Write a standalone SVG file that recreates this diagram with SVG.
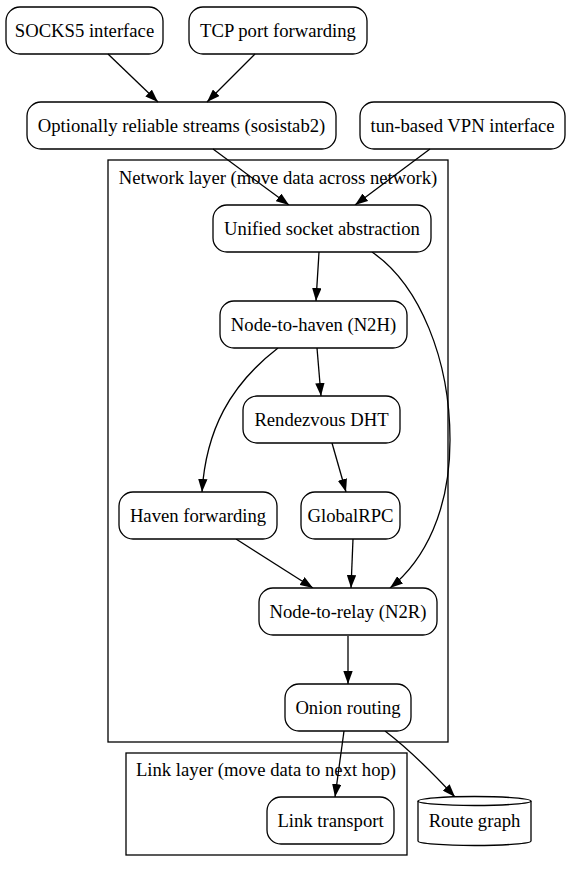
<svg xmlns="http://www.w3.org/2000/svg" width="571" height="872" viewBox="0 0 571 872">
<defs>
<marker id="ah" viewBox="0 0 13 9.4" refX="13" refY="4.7" markerWidth="13" markerHeight="9.4" markerUnits="userSpaceOnUse" orient="auto">
<path d="M0,0 L13,4.7 L0,9.4 z" fill="#000"/>
</marker>
</defs>
<style>
rect.n{fill:#fff;stroke:#000;stroke-width:1.3}
rect.c{fill:none;stroke:#000;stroke-width:1.3}
text{font-size:18.67px;fill:#000;text-anchor:middle}
#edges path{fill:none;stroke:#000;stroke-width:1.3;marker-end:url(#ah)}
</style>
<rect width="571" height="872" fill="#fff"/>
<g font-family="Liberation Serif, Times New Roman, DejaVu Serif, serif">
<g id="cluster_network">
<rect class="c" x="108" y="160" width="340" height="582"/>
<text x="278" y="184">Network layer (move data across network)</text>
</g>
<g id="cluster_link">
<rect class="c" x="126" y="753" width="281" height="102"/>
<text x="266" y="776">Link layer (move data to next hop)</text>
</g>
<g id="socks5"><rect class="n" x="6" y="7" width="157" height="47" rx="14"/><text x="84.5" y="37">SOCKS5 interface</text></g>
<g id="tcp"><rect class="n" x="189" y="7" width="178" height="47" rx="14"/><text x="278" y="37">TCP port forwarding</text></g>
<g id="sosistab"><rect class="n" x="27" y="102" width="309" height="47" rx="14"/><text x="181.5" y="132">Optionally reliable streams (sosistab2)</text></g>
<g id="tun"><rect class="n" x="360" y="102" width="205" height="47" rx="14"/><text x="462.5" y="132">tun-based VPN interface</text></g>
<g id="edges">
<path d="M108,54 L158,102"/>
<path d="M255,54 L207,102"/>
<path d="M213,149 L289,205"/>
<path d="M430,149 L355,205"/>
<path d="M319,252 L316,301"/>
<path d="M372,252 C420,285 450,360 450,440 C450,510 425,560 390,588"/>
<path d="M317,348 L321,396"/>
<path d="M278,348 C230,385 206,430 202,492"/>
<path d="M332,443 L346,492"/>
<path d="M236,539 L313,588"/>
<path d="M353,539 L351,588"/>
<path d="M348,636 L348,684"/>
<path d="M344,731 L335,797"/>
<path d="M385,731 C410,750 430,770 455,797"/>
</g>
<g id="unified"><rect class="n" x="213" y="205" width="218" height="47" rx="14"/><text x="322" y="235">Unified socket abstraction</text></g>
<g id="n2h"><rect class="n" x="220" y="301" width="187" height="47" rx="14"/><text x="313.5" y="331">Node-to-haven (N2H)</text></g>
<g id="dht"><rect class="n" x="243" y="396" width="157" height="47" rx="14"/><text x="321.5" y="426">Rendezvous DHT</text></g>
<g id="haven"><rect class="n" x="119" y="492" width="158" height="47" rx="14"/><text x="198" y="522">Haven forwarding</text></g>
<g id="globalrpc"><rect class="n" x="301" y="492" width="99" height="47" rx="14"/><text x="350.5" y="522">GlobalRPC</text></g>
<g id="n2r"><rect class="n" x="259" y="588" width="178" height="47" rx="14"/><text x="348" y="618">Node-to-relay (N2R)</text></g>
<g id="onion"><rect class="n" x="285" y="684" width="126" height="47" rx="14"/><text x="348" y="714">Onion routing</text></g>
<g id="link"><rect class="n" x="267" y="797" width="127" height="47" rx="14"/><text x="330.5" y="827">Link transport</text></g>
<g id="routegraph">
<path d="M418,801 L418,841 C418,843.5 443.4,845.5 474.5,845.5 C505.6,845.5 531,843.5 531,841 L531,801 C531,798.5 505.6,796.5 474.5,796.5 C443.4,796.5 418,798.5 418,801 Z" fill="#fff" stroke="#000" stroke-width="1.3"/>
<path d="M531,801 C531,803.5 505.6,805.5 474.5,805.5 C443.4,805.5 418,803.5 418,801" fill="none" stroke="#000" stroke-width="1.3"/>
<text x="474.5" y="827">Route graph</text>
</g>
</g>
</svg>
